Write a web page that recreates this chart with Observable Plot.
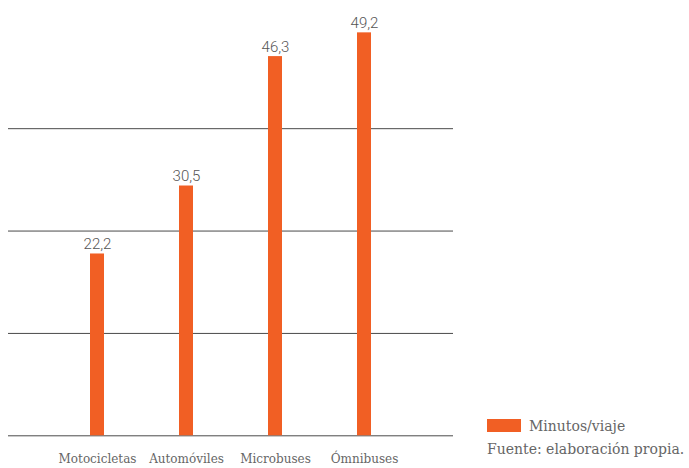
<!DOCTYPE html>
<html><head><meta charset="utf-8">
<script src="https://cdn.jsdelivr.net/npm/d3@7"></script>
<script src="https://cdn.jsdelivr.net/npm/@observablehq/plot@0.6"></script>
<style>
body{margin:0;background:#fff;}
#wrap{position:relative;width:689px;height:468px;}
#legend{position:absolute;left:487px;top:418px;font-family:"DejaVu Serif",serif;font-size:14px;color:#666;white-space:nowrap;}
#legend .sw{display:inline-block;width:34px;height:13px;background:#F15F24;vertical-align:-1px;margin-right:8px;}
#caption{position:absolute;left:487px;top:441px;font-family:"DejaVu Serif",serif;font-size:14px;color:#666;white-space:nowrap;}
</style></head>
<body>
<div id="wrap"></div>
<script>
const categories = ["Motocicletas","Automóviles","Microbuses","Ómnibuses"];
const values = [22.2, 30.5, 46.3, 49.2];
const gridTicks = [0, 12.5, 25, 37.5];
const seriesName = "Minutos/viaje";
const source = "Fuente: elaboración propia.";

const data = categories.map((c,i)=>({cat:c, v:values[i]}));
const fmt = v => v.toFixed(1).replace(".", ",");

const chart = Plot.plot({
  width: 689, height: 468,
  marginLeft: 8, marginRight: 236, marginTop: 25.8, marginBottom: 32.7,
  x: {domain: categories, paddingInner: 0.843, paddingOuter: 0.9215, axis: null},
  y: {domain: [0, 50], axis: null},
  style: {background: "transparent"},
  marks: [
    Plot.ruleY(gridTicks, {stroke: "#4a4a4a", strokeWidth: 1}),
    Plot.barY(data, {x: "cat", y: "v", fill: "#F15F24"}),
    Plot.text(data, {x: "cat", y: "v", text: d => fmt(d.v), dy: -5, lineAnchor: "bottom",
      fontFamily: "Roboto", fontWeight: 300, fontSize: 15, fill: "#555"}),
    Plot.text(data, {x: "cat", y: 0, text: "cat", dy: 19, lineAnchor: "top",
      fontFamily: "DejaVu Serif", fontSize: 12, fill: "#666", fontStretch: "condensed"})
  ]
});
const wrap = document.getElementById("wrap");
wrap.appendChild(chart);
const lg = document.createElement("div"); lg.id = "legend";
lg.innerHTML = '<span class="sw"></span>' + seriesName;
wrap.appendChild(lg);
const cp = document.createElement("div"); cp.id = "caption"; cp.textContent = source;
wrap.appendChild(cp);
</script>
</body></html>
